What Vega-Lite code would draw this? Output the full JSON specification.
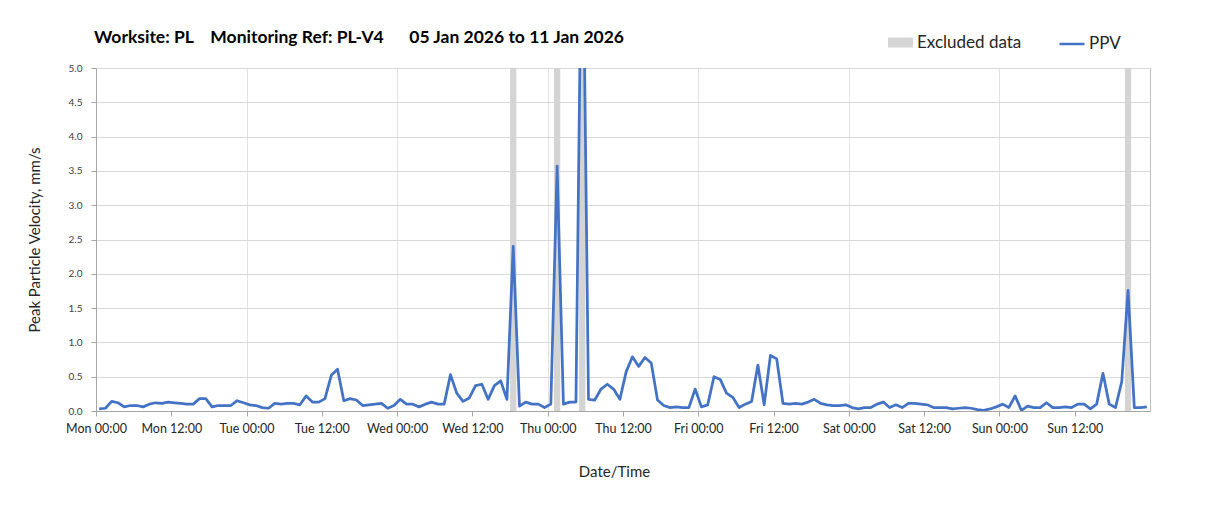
{
  "$schema": "https://vega.github.io/schema/vega-lite/v6.json",
  "width": 1054,
  "height": 343,
  "autosize": "none",
  "padding": {"left": 96, "top": 68, "right": 58, "bottom": 99},
  "background": "white",
  "config": {"view": {"stroke": "#bfbfbf", "strokeWidth": 1}, "font": "Lato"},
  "title": {
    "text": "Worksite: PL\u00a0\u00a0\u00a0\u00a0Monitoring Ref: PL-V4\u00a0\u00a0\u00a0\u00a0\u00a0\u00a005 Jan 2026 to 11 Jan 2026",
    "anchor": "start", "frame": "group", "font": "Lato", "fontSize": 17.5, "fontWeight": "bold",
    "color": "#000000", "offset": 20, "dx": -2, "dy": 36
  },
  "datasets": {
    "excluded": [
      {"start": "2026-01-07T18:00:00Z", "end": "2026-01-07T19:00:00Z"},
      {"start": "2026-01-08T01:00:00Z", "end": "2026-01-08T02:00:00Z"},
      {"start": "2026-01-08T05:00:00Z", "end": "2026-01-08T06:00:00Z"},
      {"start": "2026-01-11T20:00:00Z", "end": "2026-01-11T21:00:00Z"}
    ],
    "ppv": [
      {"t": "2026-01-05T00:30:00Z", "ppv": 0.03},
      {"t": "2026-01-05T01:30:00Z", "ppv": 0.04},
      {"t": "2026-01-05T02:30:00Z", "ppv": 0.14},
      {"t": "2026-01-05T03:30:00Z", "ppv": 0.12},
      {"t": "2026-01-05T04:30:00Z", "ppv": 0.06},
      {"t": "2026-01-05T05:30:00Z", "ppv": 0.08},
      {"t": "2026-01-05T06:30:00Z", "ppv": 0.08},
      {"t": "2026-01-05T07:30:00Z", "ppv": 0.06},
      {"t": "2026-01-05T08:30:00Z", "ppv": 0.10},
      {"t": "2026-01-05T09:30:00Z", "ppv": 0.12},
      {"t": "2026-01-05T10:30:00Z", "ppv": 0.11},
      {"t": "2026-01-05T11:30:00Z", "ppv": 0.13},
      {"t": "2026-01-05T12:30:00Z", "ppv": 0.12},
      {"t": "2026-01-05T13:30:00Z", "ppv": 0.11},
      {"t": "2026-01-05T14:30:00Z", "ppv": 0.10},
      {"t": "2026-01-05T15:30:00Z", "ppv": 0.10},
      {"t": "2026-01-05T16:30:00Z", "ppv": 0.18},
      {"t": "2026-01-05T17:30:00Z", "ppv": 0.18},
      {"t": "2026-01-05T18:30:00Z", "ppv": 0.06},
      {"t": "2026-01-05T19:30:00Z", "ppv": 0.08},
      {"t": "2026-01-05T20:30:00Z", "ppv": 0.08},
      {"t": "2026-01-05T21:30:00Z", "ppv": 0.08},
      {"t": "2026-01-05T22:30:00Z", "ppv": 0.15},
      {"t": "2026-01-05T23:30:00Z", "ppv": 0.12},
      {"t": "2026-01-06T00:30:00Z", "ppv": 0.09},
      {"t": "2026-01-06T01:30:00Z", "ppv": 0.08},
      {"t": "2026-01-06T02:30:00Z", "ppv": 0.05},
      {"t": "2026-01-06T03:30:00Z", "ppv": 0.04},
      {"t": "2026-01-06T04:30:00Z", "ppv": 0.11},
      {"t": "2026-01-06T05:30:00Z", "ppv": 0.10},
      {"t": "2026-01-06T06:30:00Z", "ppv": 0.11},
      {"t": "2026-01-06T07:30:00Z", "ppv": 0.11},
      {"t": "2026-01-06T08:30:00Z", "ppv": 0.09},
      {"t": "2026-01-06T09:30:00Z", "ppv": 0.22},
      {"t": "2026-01-06T10:30:00Z", "ppv": 0.13},
      {"t": "2026-01-06T11:30:00Z", "ppv": 0.13},
      {"t": "2026-01-06T12:30:00Z", "ppv": 0.18},
      {"t": "2026-01-06T13:30:00Z", "ppv": 0.52},
      {"t": "2026-01-06T14:30:00Z", "ppv": 0.61},
      {"t": "2026-01-06T15:30:00Z", "ppv": 0.15},
      {"t": "2026-01-06T16:30:00Z", "ppv": 0.18},
      {"t": "2026-01-06T17:30:00Z", "ppv": 0.16},
      {"t": "2026-01-06T18:30:00Z", "ppv": 0.08},
      {"t": "2026-01-06T19:30:00Z", "ppv": 0.09},
      {"t": "2026-01-06T20:30:00Z", "ppv": 0.10},
      {"t": "2026-01-06T21:30:00Z", "ppv": 0.11},
      {"t": "2026-01-06T22:30:00Z", "ppv": 0.04},
      {"t": "2026-01-06T23:30:00Z", "ppv": 0.08},
      {"t": "2026-01-07T00:30:00Z", "ppv": 0.17},
      {"t": "2026-01-07T01:30:00Z", "ppv": 0.10},
      {"t": "2026-01-07T02:30:00Z", "ppv": 0.10},
      {"t": "2026-01-07T03:30:00Z", "ppv": 0.06},
      {"t": "2026-01-07T04:30:00Z", "ppv": 0.10},
      {"t": "2026-01-07T05:30:00Z", "ppv": 0.13},
      {"t": "2026-01-07T06:30:00Z", "ppv": 0.10},
      {"t": "2026-01-07T07:30:00Z", "ppv": 0.10},
      {"t": "2026-01-07T08:30:00Z", "ppv": 0.53},
      {"t": "2026-01-07T09:30:00Z", "ppv": 0.26},
      {"t": "2026-01-07T10:30:00Z", "ppv": 0.14},
      {"t": "2026-01-07T11:30:00Z", "ppv": 0.19},
      {"t": "2026-01-07T12:30:00Z", "ppv": 0.37},
      {"t": "2026-01-07T13:30:00Z", "ppv": 0.39},
      {"t": "2026-01-07T14:30:00Z", "ppv": 0.17},
      {"t": "2026-01-07T15:30:00Z", "ppv": 0.37},
      {"t": "2026-01-07T16:30:00Z", "ppv": 0.44},
      {"t": "2026-01-07T17:30:00Z", "ppv": 0.17},
      {"t": "2026-01-07T18:30:00Z", "ppv": 2.40},
      {"t": "2026-01-07T19:30:00Z", "ppv": 0.07},
      {"t": "2026-01-07T20:30:00Z", "ppv": 0.13},
      {"t": "2026-01-07T21:30:00Z", "ppv": 0.10},
      {"t": "2026-01-07T22:30:00Z", "ppv": 0.10},
      {"t": "2026-01-07T23:30:00Z", "ppv": 0.05},
      {"t": "2026-01-08T00:30:00Z", "ppv": 0.10},
      {"t": "2026-01-08T01:30:00Z", "ppv": 3.57},
      {"t": "2026-01-08T02:30:00Z", "ppv": 0.10},
      {"t": "2026-01-08T03:30:00Z", "ppv": 0.13},
      {"t": "2026-01-08T04:30:00Z", "ppv": 0.13},
      {"t": "2026-01-08T05:30:00Z", "ppv": 8.0},
      {"t": "2026-01-08T06:30:00Z", "ppv": 0.17},
      {"t": "2026-01-08T07:30:00Z", "ppv": 0.16},
      {"t": "2026-01-08T08:30:00Z", "ppv": 0.32},
      {"t": "2026-01-08T09:30:00Z", "ppv": 0.39},
      {"t": "2026-01-08T10:30:00Z", "ppv": 0.32},
      {"t": "2026-01-08T11:30:00Z", "ppv": 0.17},
      {"t": "2026-01-08T12:30:00Z", "ppv": 0.57},
      {"t": "2026-01-08T13:30:00Z", "ppv": 0.79},
      {"t": "2026-01-08T14:30:00Z", "ppv": 0.65},
      {"t": "2026-01-08T15:30:00Z", "ppv": 0.78},
      {"t": "2026-01-08T16:30:00Z", "ppv": 0.70},
      {"t": "2026-01-08T17:30:00Z", "ppv": 0.16},
      {"t": "2026-01-08T18:30:00Z", "ppv": 0.08},
      {"t": "2026-01-08T19:30:00Z", "ppv": 0.05},
      {"t": "2026-01-08T20:30:00Z", "ppv": 0.06},
      {"t": "2026-01-08T21:30:00Z", "ppv": 0.05},
      {"t": "2026-01-08T22:30:00Z", "ppv": 0.05},
      {"t": "2026-01-08T23:30:00Z", "ppv": 0.32},
      {"t": "2026-01-09T00:30:00Z", "ppv": 0.06},
      {"t": "2026-01-09T01:30:00Z", "ppv": 0.09},
      {"t": "2026-01-09T02:30:00Z", "ppv": 0.50},
      {"t": "2026-01-09T03:30:00Z", "ppv": 0.46},
      {"t": "2026-01-09T04:30:00Z", "ppv": 0.26},
      {"t": "2026-01-09T05:30:00Z", "ppv": 0.20},
      {"t": "2026-01-09T06:30:00Z", "ppv": 0.05},
      {"t": "2026-01-09T07:30:00Z", "ppv": 0.10},
      {"t": "2026-01-09T08:30:00Z", "ppv": 0.14},
      {"t": "2026-01-09T09:30:00Z", "ppv": 0.67},
      {"t": "2026-01-09T10:30:00Z", "ppv": 0.09},
      {"t": "2026-01-09T11:30:00Z", "ppv": 0.81},
      {"t": "2026-01-09T12:30:00Z", "ppv": 0.76},
      {"t": "2026-01-09T13:30:00Z", "ppv": 0.11},
      {"t": "2026-01-09T14:30:00Z", "ppv": 0.10},
      {"t": "2026-01-09T15:30:00Z", "ppv": 0.11},
      {"t": "2026-01-09T16:30:00Z", "ppv": 0.10},
      {"t": "2026-01-09T17:30:00Z", "ppv": 0.13},
      {"t": "2026-01-09T18:30:00Z", "ppv": 0.17},
      {"t": "2026-01-09T19:30:00Z", "ppv": 0.11},
      {"t": "2026-01-09T20:30:00Z", "ppv": 0.09},
      {"t": "2026-01-09T21:30:00Z", "ppv": 0.08},
      {"t": "2026-01-09T22:30:00Z", "ppv": 0.08},
      {"t": "2026-01-09T23:30:00Z", "ppv": 0.09},
      {"t": "2026-01-10T00:30:00Z", "ppv": 0.05},
      {"t": "2026-01-10T01:30:00Z", "ppv": 0.03},
      {"t": "2026-01-10T02:30:00Z", "ppv": 0.05},
      {"t": "2026-01-10T03:30:00Z", "ppv": 0.05},
      {"t": "2026-01-10T04:30:00Z", "ppv": 0.10},
      {"t": "2026-01-10T05:30:00Z", "ppv": 0.13},
      {"t": "2026-01-10T06:30:00Z", "ppv": 0.05},
      {"t": "2026-01-10T07:30:00Z", "ppv": 0.09},
      {"t": "2026-01-10T08:30:00Z", "ppv": 0.05},
      {"t": "2026-01-10T09:30:00Z", "ppv": 0.11},
      {"t": "2026-01-10T10:30:00Z", "ppv": 0.11},
      {"t": "2026-01-10T11:30:00Z", "ppv": 0.10},
      {"t": "2026-01-10T12:30:00Z", "ppv": 0.09},
      {"t": "2026-01-10T13:30:00Z", "ppv": 0.05},
      {"t": "2026-01-10T14:30:00Z", "ppv": 0.05},
      {"t": "2026-01-10T15:30:00Z", "ppv": 0.05},
      {"t": "2026-01-10T16:30:00Z", "ppv": 0.03},
      {"t": "2026-01-10T17:30:00Z", "ppv": 0.04},
      {"t": "2026-01-10T18:30:00Z", "ppv": 0.05},
      {"t": "2026-01-10T19:30:00Z", "ppv": 0.04},
      {"t": "2026-01-10T20:30:00Z", "ppv": 0.02},
      {"t": "2026-01-10T21:30:00Z", "ppv": 0.01},
      {"t": "2026-01-10T22:30:00Z", "ppv": 0.03},
      {"t": "2026-01-10T23:30:00Z", "ppv": 0.06},
      {"t": "2026-01-11T00:30:00Z", "ppv": 0.10},
      {"t": "2026-01-11T01:30:00Z", "ppv": 0.05},
      {"t": "2026-01-11T02:30:00Z", "ppv": 0.22},
      {"t": "2026-01-11T03:30:00Z", "ppv": 0.01},
      {"t": "2026-01-11T04:30:00Z", "ppv": 0.07},
      {"t": "2026-01-11T05:30:00Z", "ppv": 0.05},
      {"t": "2026-01-11T06:30:00Z", "ppv": 0.05},
      {"t": "2026-01-11T07:30:00Z", "ppv": 0.12},
      {"t": "2026-01-11T08:30:00Z", "ppv": 0.05},
      {"t": "2026-01-11T09:30:00Z", "ppv": 0.05},
      {"t": "2026-01-11T10:30:00Z", "ppv": 0.06},
      {"t": "2026-01-11T11:30:00Z", "ppv": 0.05},
      {"t": "2026-01-11T12:30:00Z", "ppv": 0.10},
      {"t": "2026-01-11T13:30:00Z", "ppv": 0.10},
      {"t": "2026-01-11T14:30:00Z", "ppv": 0.03},
      {"t": "2026-01-11T15:30:00Z", "ppv": 0.10},
      {"t": "2026-01-11T16:30:00Z", "ppv": 0.55},
      {"t": "2026-01-11T17:30:00Z", "ppv": 0.10},
      {"t": "2026-01-11T18:30:00Z", "ppv": 0.05},
      {"t": "2026-01-11T19:30:00Z", "ppv": 0.43},
      {"t": "2026-01-11T20:30:00Z", "ppv": 1.76},
      {"t": "2026-01-11T21:30:00Z", "ppv": 0.05},
      {"t": "2026-01-11T22:30:00Z", "ppv": 0.05},
      {"t": "2026-01-11T23:30:00Z", "ppv": 0.06}
    ]
  },
  "layer": [
    {
      "data": {"name": "excluded"},
      "mark": {"type": "rect", "opacity": 1},
      "encoding": {
        "x": {
          "field": "start", "type": "temporal",
          "scale": {"type": "utc", "domain": [{"year": 2026, "month": 1, "date": 5, "utc": true}, {"year": 2026, "month": 1, "date": 12, "utc": true}]},
          "axis": {
            "title": "Date/Time",
            "format": "%a %H:%M",
            "values": [
              {"year": 2026, "month": 1, "date": 5, "hours": 0, "utc": true},
              {"year": 2026, "month": 1, "date": 5, "hours": 12, "utc": true},
              {"year": 2026, "month": 1, "date": 6, "hours": 0, "utc": true},
              {"year": 2026, "month": 1, "date": 6, "hours": 12, "utc": true},
              {"year": 2026, "month": 1, "date": 7, "hours": 0, "utc": true},
              {"year": 2026, "month": 1, "date": 7, "hours": 12, "utc": true},
              {"year": 2026, "month": 1, "date": 8, "hours": 0, "utc": true},
              {"year": 2026, "month": 1, "date": 8, "hours": 12, "utc": true},
              {"year": 2026, "month": 1, "date": 9, "hours": 0, "utc": true},
              {"year": 2026, "month": 1, "date": 9, "hours": 12, "utc": true},
              {"year": 2026, "month": 1, "date": 10, "hours": 0, "utc": true},
              {"year": 2026, "month": 1, "date": 10, "hours": 12, "utc": true},
              {"year": 2026, "month": 1, "date": 11, "hours": 0, "utc": true},
              {"year": 2026, "month": 1, "date": 11, "hours": 12, "utc": true}
            ],
            "labelFont": "Lato", "labelFontSize": 12.5, "labelColor": "#262626", "labelPadding": 6,
            "labelFlush": false, "labelOverlap": false,
            "tickSize": 5, "tickColor": "#a6a6a6", "domainColor": "#a6a6a6",
            "grid": true, "gridColor": "#e3e3e3",
            "gridOpacity": {"condition": {"test": "utchours(datum.value) === 0", "value": 1}, "value": 0},
            "titleFont": "Lato", "titleFontSize": 15, "titleFontWeight": "normal", "titleColor": "#262626",
            "titlePadding": 30, "titleX": 518, "titleAlign": "center"
          }
        },
        "x2": {"field": "end"},
        "fill": {
          "datum": "Excluded data", "type": "nominal",
          "scale": {"range": ["#d4d4d4"]},
          "legend": {
            "title": null, "orient": "none", "legendX": 792, "legendY": -38,
            "symbolType": "M-1,-0.4H1V0.4H-1Z", "symbolSize": 625, "symbolStrokeWidth": 0,
            "labelFont": "Lato", "labelFontSize": 17, "labelColor": "#262626", "labelOffset": 4
          }
        }
      }
    },
    {
      "data": {"name": "ppv"},
      "mark": {"type": "line", "clip": true, "strokeWidth": 2.75, "strokeJoin": "round"},
      "encoding": {
        "x": {"field": "t", "type": "temporal"},
        "y": {
          "field": "ppv", "type": "quantitative",
          "scale": {"domain": [0, 5], "nice": false},
          "axis": {
            "title": "Peak Particle Velocity, mm/s",
            "values": [0, 0.5, 1, 1.5, 2, 2.5, 3, 3.5, 4, 4.5, 5],
            "format": ".1f",
            "labelFont": "Lato", "labelFontSize": 10, "labelColor": "#404040", "labelPadding": 9,
            "tickSize": 5, "tickColor": "#a6a6a6", "domainColor": "#a6a6a6",
            "gridColor": "#d9d9d9",
            "titleFont": "Lato", "titleFontSize": 15, "titleFontWeight": "normal", "titleColor": "#262626",
            "titlePadding": 26
          }
        },
        "stroke": {
          "datum": "PPV", "type": "nominal",
          "scale": {"range": ["#4472c4"]},
          "legend": {
            "title": null, "orient": "none", "legendX": 962, "legendY": -38,
            "symbolType": "stroke", "symbolSize": 625, "symbolStrokeWidth": 2.5,
            "labelFont": "Lato", "labelFontSize": 17, "labelColor": "#262626", "labelOffset": 3
          }
        }
      }
    }
  ]
}
